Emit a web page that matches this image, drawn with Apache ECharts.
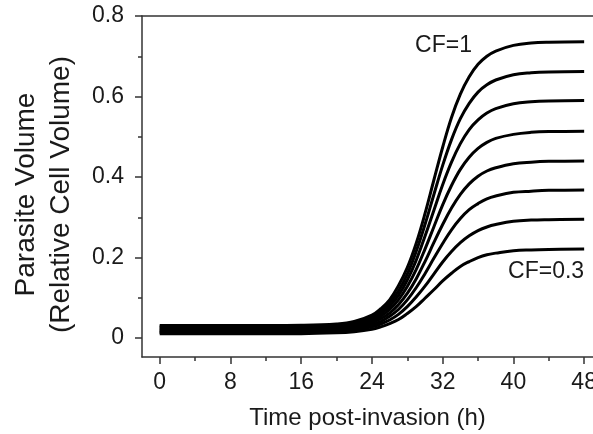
<!DOCTYPE html>
<html>
<head>
<meta charset="utf-8">
<script src="https://cdn.jsdelivr.net/npm/echarts@6/dist/echarts.min.js"></script>
<style>
html,body{margin:0;padding:0;background:#fff;}
#main{width:593px;height:434px;}
</style>
</head>
<body>
<div id="main"></div>
<script>
// time (h)
var time = [0, 8, 16, 20, 22, 24, 25, 26, 27, 28, 29, 30, 31, 32, 33, 34, 35, 36, 37, 38, 40, 42, 44, 48];

// parasite volume for each CF
var cf10 = [0.031, 0.031, 0.032, 0.035, 0.041, 0.057, 0.073, 0.095, 0.130, 0.175, 0.235, 0.309, 0.392, 0.474, 0.548, 0.606, 0.649, 0.680, 0.700, 0.713, 0.727, 0.733, 0.735, 0.736];
var cf09 = [0.028, 0.028, 0.029, 0.032, 0.038, 0.052, 0.066, 0.087, 0.117, 0.159, 0.215, 0.282, 0.356, 0.429, 0.493, 0.545, 0.583, 0.611, 0.629, 0.641, 0.654, 0.659, 0.661, 0.662];
var cf08 = [0.025, 0.025, 0.026, 0.029, 0.034, 0.048, 0.060, 0.079, 0.106, 0.144, 0.193, 0.253, 0.317, 0.381, 0.437, 0.483, 0.518, 0.542, 0.559, 0.570, 0.582, 0.587, 0.589, 0.590];
var cf07 = [0.022, 0.022, 0.023, 0.026, 0.031, 0.043, 0.054, 0.071, 0.095, 0.128, 0.170, 0.221, 0.276, 0.331, 0.379, 0.419, 0.449, 0.471, 0.486, 0.496, 0.506, 0.511, 0.513, 0.514];
var cf06 = [0.019, 0.019, 0.020, 0.022, 0.027, 0.038, 0.048, 0.062, 0.083, 0.111, 0.147, 0.190, 0.237, 0.282, 0.323, 0.357, 0.383, 0.402, 0.415, 0.423, 0.433, 0.437, 0.439, 0.440];
var cf05 = [0.016, 0.016, 0.017, 0.019, 0.023, 0.033, 0.041, 0.054, 0.071, 0.095, 0.125, 0.160, 0.198, 0.235, 0.269, 0.297, 0.319, 0.334, 0.346, 0.353, 0.362, 0.365, 0.367, 0.368];
var cf04 = [0.014, 0.014, 0.014, 0.017, 0.020, 0.028, 0.035, 0.045, 0.059, 0.078, 0.102, 0.129, 0.159, 0.189, 0.215, 0.237, 0.254, 0.267, 0.276, 0.282, 0.290, 0.293, 0.294, 0.295];
var cf03 = [0.011, 0.011, 0.011, 0.013, 0.016, 0.022, 0.028, 0.036, 0.046, 0.061, 0.078, 0.099, 0.120, 0.142, 0.161, 0.178, 0.190, 0.200, 0.207, 0.211, 0.217, 0.219, 0.220, 0.221];

var curveNames = ['CF=1', 'CF=0.9', 'CF=0.8', 'CF=0.7', 'CF=0.6', 'CF=0.5', 'CF=0.4', 'CF=0.3'];
var curves = [cf10, cf09, cf08, cf07, cf06, cf05, cf04, cf03];

// ticks
var xTicks = [0, 8, 16, 24, 32, 40, 48];
var xMinor = [4, 12, 20, 28, 36, 44];
var yTicks = [0, 0.2, 0.4, 0.6, 0.8];
var yMinor = [0.1, 0.3, 0.5, 0.7];

// curve labels [time, volume]
var labelCF1 = [32.1, 0.727];
var labelCF03 = [43.7, 0.166];

var FONT = 'Liberation Sans, Arial, Helvetica, sans-serif';
var INK = '#1a1a1a';
var AXIS = '#333';

var chart = echarts.init(document.getElementById('main'), null, {renderer: 'canvas'});

function makeSeries() {
	var list = [];
	for (var i = 0; i < curves.length; i++) {
		var pts = [];
		for (var j = 0; j < time.length; j++) {
			pts.push([time[j], curves[i][j]]);
		}
		var s = {
			name: curveNames[i],
			type: 'line',
			data: pts,
			showSymbol: false,
			smooth: 0.4,
			lineStyle: {color: '#000', width: 3, cap: 'butt'},
			z: 3
		};
		var lab = null;
		if (i == 0) lab = labelCF1;
		if (i == curves.length - 1) lab = labelCF03;
		if (lab) {
			s.markPoint = {
				symbol: 'rect',
				symbolSize: 1,
				itemStyle: {color: 'rgba(0,0,0,0)'},
				label: {show: true, position: 'inside', color: INK, fontFamily: FONT, fontSize: 23, formatter: curveNames[i]},
				data: [{coord: lab, value: curveNames[i]}]
			};
		}
		list.push(s);
	}
	return list;
}

var option = {
	animation: false,
	backgroundColor: '#fff',
	grid: {left: 142, top: 16, right: 0, bottom: 77, containLabel: false, outerBoundsMode: 'none'},
	xAxis: [
		{
			type: 'value', min: -2, max: 49, position: 'bottom',
			name: 'Time post-invasion (h)', nameLocation: 'middle', nameGap: 49,
			nameTextStyle: {color: INK, fontFamily: FONT, fontSize: 24},
			axisLine: {show: true, onZero: false, lineStyle: {color: AXIS, width: 1.5}},
			axisTick: {show: true, length: 7, lineStyle: {color: AXIS, width: 1.5}, customValues: xTicks},
			axisLabel: {show: true, margin: 14, color: INK, fontFamily: FONT, fontSize: 23, customValues: xTicks},
			splitLine: {show: false}
		},
		{
			type: 'value', min: -2, max: 49, position: 'bottom',
			axisLine: {show: false, onZero: false},
			axisTick: {show: true, length: 4, lineStyle: {color: AXIS, width: 1.5}, customValues: xMinor},
			axisLabel: {show: false},
			splitLine: {show: false}
		},
		{
			type: 'value', min: -2, max: 49, position: 'top',
			axisLine: {show: true, onZero: false, lineStyle: {color: AXIS, width: 1.5}},
			axisTick: {show: false},
			axisLabel: {show: false},
			splitLine: {show: false}
		}
	],
	yAxis: [
		{
			type: 'value', min: -0.047, max: 0.8, position: 'left',
			name: 'Parasite Volume\n(Relative Cell Volume)', nameLocation: 'middle', nameRotate: 90, nameGap: 63,
			nameTextStyle: {color: INK, fontFamily: FONT, fontSize: 28, lineHeight: 35, padding: [0, 16, 0, 0]},
			axisLine: {show: true, onZero: false, lineStyle: {color: AXIS, width: 1.5}},
			axisTick: {show: true, length: 7, lineStyle: {color: AXIS, width: 1.5}, customValues: yTicks},
			axisLabel: {show: true, margin: 18, color: INK, fontFamily: FONT, fontSize: 23, customValues: yTicks},
			splitLine: {show: false}
		},
		{
			type: 'value', min: -0.047, max: 0.8, position: 'left',
			axisLine: {show: false, onZero: false},
			axisTick: {show: true, length: 4, lineStyle: {color: AXIS, width: 1.5}, customValues: yMinor},
			axisLabel: {show: false},
			splitLine: {show: false}
		}
	],
	series: makeSeries()
};

chart.setOption(option);
</script>
</body>
</html>
